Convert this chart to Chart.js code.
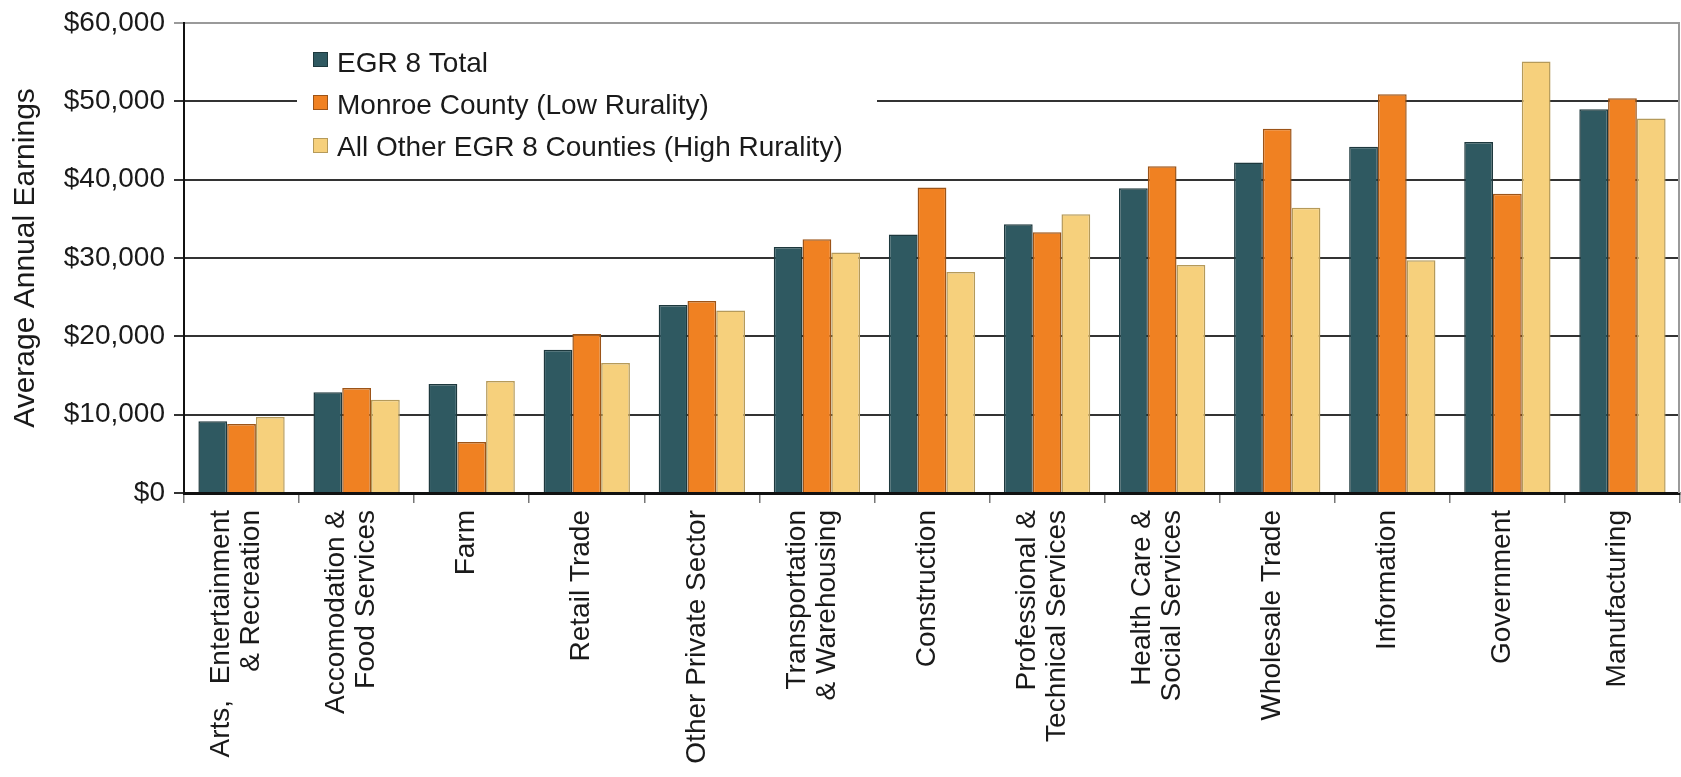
<!DOCTYPE html>
<html>
<head>
<meta charset="utf-8">
<title>Average Annual Earnings by Industry</title>
<script src="https://cdn.jsdelivr.net/npm/chart.js@4.4.0/dist/chart.umd.min.js"></script>
<style>
  html, body { margin: 0; padding: 0; background: #fff; }
  #wrap { position: relative; width: 1681px; height: 777px; }
</style>
</head>
<body>
<div id="wrap"><canvas id="earnings-chart"></canvas></div>
<script>
/* Average annual earnings by industry, EGR 8 vs Monroe County vs the rest */

const categories = [
  ['Arts,  Entertainment', '& Recreation'],
  ['Accomodation &', 'Food Services'],
  'Farm',
  'Retail Trade',
  'Other Private Sector',
  ['Transportation', '& Warehousing'],
  'Construction',
  ['Professional &', 'Technical Services'],
  ['Health Care &', 'Social Services'],
  'Wholesale Trade',
  'Information',
  'Government',
  'Manufacturing',
];

const seriesNames = [
  'EGR 8 Total',
  'Monroe County (Low Rurality)',
  'All Other EGR 8 Counties (High Rurality)',
];

const egrTotal = [9150, 12850, 13900, 18300, 24000, 31400, 33000, 34300, 38900, 42200, 44200, 44800, 49000];
const monroeCounty = [8800, 13400, 6500, 20300, 24500, 32400, 39000, 33300, 41700, 46500, 50900, 38200, 50400];
const otherCounties = [9700, 11900, 14300, 16600, 23300, 30700, 28200, 35600, 29100, 36400, 29700, 55100, 47800];

const yMin = 0;
const yMax = 60000;
const yStep = 10000;

const FONT = "'Liberation Sans', Arial, sans-serif";

/* right frame line + legend box sitting inside the plot */
const legendPlugin = {
  id: 'insideLegend',
  beforeDatasetsDraw(chart) {
    const { ctx, chartArea } = chart;
    ctx.save();
    ctx.strokeStyle = '#9a9a9a';
    ctx.lineWidth = 2;
    ctx.beginPath();
    ctx.moveTo(chartArea.right - 1, chartArea.top);
    ctx.lineTo(chartArea.right - 1, chartArea.bottom);
    ctx.stroke();
    ctx.restore();
  },
  afterDraw(chart) {
    const { ctx, chartArea } = chart;
    const left = chartArea.left;
    const top = chartArea.top;
    ctx.save();
    ctx.fillStyle = '#fff';
    ctx.fillRect(left + 113, top + 9, 580, 142);
    ctx.font = '28px ' + FONT;
    ctx.textBaseline = 'alphabetic';
    chart.data.datasets.forEach((ds, i) => {
      const sy = top + 29 + i * 43;
      ctx.fillStyle = ds.backgroundColor;
      ctx.fillRect(left + 129, sy, 15, 15);
      ctx.strokeStyle = ds.borderColor;
      ctx.lineWidth = 1;
      ctx.strokeRect(left + 129.5, sy + 0.5, 14, 14);
      ctx.fillStyle = '#1a1a1a';
      ctx.fillText(ds.label, left + 153, top + 48.5 + i * 42);
    });
    ctx.restore();
  },
};

/* single-line labels get an empty first line so they sit a bit right of
   the two-line ones, the way the original centres them */
const isSingle = (i) => !Array.isArray(categories[i]);

const dataEarnings = {
  labels: categories,
  datasets: [
    {
      label: seriesNames[0],
      backgroundColor: '#2f5961',
      borderColor: '#1d383d',
      borderWidth: 1.5,
      data: egrTotal,
    },
    {
      label: seriesNames[1],
      backgroundColor: '#f08122',
      borderColor: '#9c5418',
      borderWidth: 1.5,
      data: monroeCounty,
    },
    {
      label: seriesNames[2],
      backgroundColor: '#f6d07c',
      borderColor: '#b59a5a',
      borderWidth: 1.5,
      data: otherCounties,
    },
  ],
};

const configEarnings = {
  type: 'bar',
  data: dataEarnings,
  plugins: [legendPlugin],
  options: {
    responsive: true,
    maintainAspectRatio: false,
    animation: false,
    devicePixelRatio: 1,
    layout: {
      padding: { top: 13, right: 1, bottom: 0, left: 0 },
    },
    datasets: {
      bar: {
        categoryPercentage: 0.75,
        barPercentage: 1.0,
      },
    },
    plugins: {
      legend: { display: false },
      tooltip: { enabled: false },
    },
    scales: {
      x: {
        afterFit(scale) {
          scale.height = 284;
        },
        grid: {
          display: true,
          drawOnChartArea: false,
          offset: true,
          tickLength: 10,
          color: '#777',
          lineWidth: 1.5,
        },
        border: { color: '#111', width: 3 },
        ticks: {
          autoSkip: false,
          minRotation: 90,
          maxRotation: 90,
          padding: 7,
          labelOffset: -20,
          color: '#1a1a1a',
          callback: (v, i) => (isSingle(i) ? ['', categories[i]] : categories[i]),
          font: (c) => ({
            family: FONT,
            size: 28,
            lineHeight: isSingle(c.index) ? '15px' : '30px',
          }),
        },
      },
      y: {
        min: yMin,
        max: yMax,
        afterFit(scale) {
          scale.width = 184;
        },
        grid: {
          color: (c) => (c.tick && c.tick.value === yMax ? '#9a9a9a' : '#333'),
          lineWidth: 2,
          tickLength: 10,
        },
        border: { color: '#111', width: 2 },
        ticks: {
          stepSize: yStep,
          padding: 9,
          color: '#1a1a1a',
          font: { family: FONT, size: 28, lineHeight: 1.0 },
          callback: (v) => '$' + Number(v).toLocaleString('en-US'),
        },
        title: {
          display: true,
          text: 'Average Annual Earnings',
          color: '#1a1a1a',
          padding: { top: 8, bottom: 0 },
          font: { family: FONT, size: 30 },
        },
      },
    },
  },
};

new Chart(document.getElementById('earnings-chart').getContext('2d'), configEarnings);
</script>
</body>
</html>
